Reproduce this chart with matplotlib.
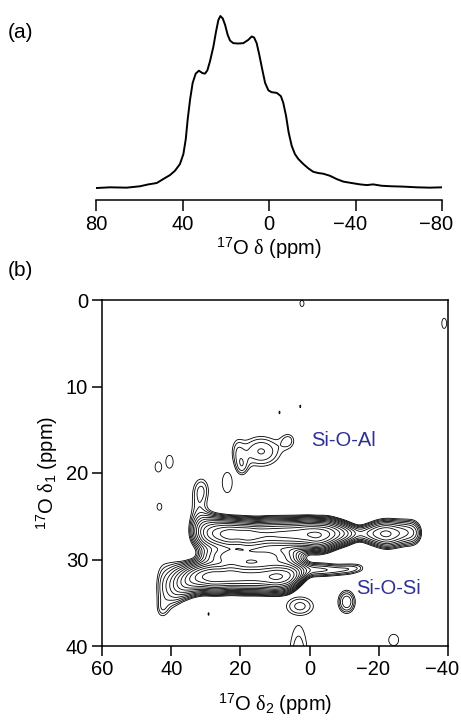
import numpy as np
import matplotlib
matplotlib.use("Agg")
import matplotlib.pyplot as plt
from matplotlib.transforms import ScaledTranslation

plt.rcParams["font.family"] = ["Liberation Sans", "DejaVu Sans"]
plt.rcParams["mathtext.fontset"] = "custom"
plt.rcParams["mathtext.rm"] = "Liberation Sans"
plt.rcParams["mathtext.it"] = "Liberation Serif"
plt.rcParams["axes.unicode_minus"] = True

# ---- (a) 1D 17O MAS spectrum ----
spec_ppm = [79.7, 73.5, 65.8, 59.7, 55.8, 51.9, 48.9, 45.8, 43.5, 41.2, 39.6, 38.5,
            37.6, 36.5, 35.3, 33.9, 32.4, 30.8, 29.6, 28.5, 27.3, 25.7, 24.5, 23.4,
            22.5, 21.4, 20.3, 19.1, 18.0, 16.5, 14.2, 11.9, 9.6, 8.0, 6.9, 5.7, 4.5,
            3.1, 1.8, 0.3, -1.2, -3.6, -5.5, -6.6, -7.9, -9.1, -10.5, -12.0, -13.6,
            -15.9, -18.2, -20.5, -22.8, -25.1, -28.2, -31.3, -34.4, -38.2, -42.1,
            -45.2, -48.2, -52.1, -56.7, -62.1, -68.3, -74.4, -80.1]
spec_int = [0.0, 0.004, 0.002, 0.010, 0.021, 0.029, 0.052, 0.075, 0.100, 0.139, 0.197,
            0.283, 0.399, 0.514, 0.611, 0.665, 0.682, 0.668, 0.665, 0.684, 0.736, 0.823,
            0.909, 0.977, 1.0, 0.986, 0.948, 0.890, 0.857, 0.842, 0.840, 0.842, 0.861,
            0.881, 0.875, 0.842, 0.775, 0.688, 0.611, 0.568, 0.557, 0.553, 0.534, 0.495,
            0.418, 0.322, 0.245, 0.197, 0.168, 0.139, 0.114, 0.094, 0.087, 0.083, 0.071,
            0.052, 0.037, 0.029, 0.021, 0.017, 0.021, 0.013, 0.010, 0.008, 0.004, 0.002,
            0.004]
top_ticks = [80, 40, 0, -40, -80]

# ---- (b) 2D 17O MQMAS map ----
# Ridges: height, delta1 position and delta1 width sampled along delta2
upper_d2  = [35.5, 34.0, 32.0, 30.0, 27.0, 23.0, 20.5, 18.0, 15.0, 12.0, 8.0, 4.0,
             0.0, -2.0, -5.0, -8.0, -11.0, -13.0, -14.6, -17.0, -20.0, -22.3, -25.0,
             -28.0, -30.0, -31.5, -33.0]
upper_amp = [0.5, 1.5, 4.0, 7.0, 10.0, 13.0, 12.0, 13.0, 11.5, 11.0, 11.5, 12.0,
             13.5, 14.5, 12.0, 8.0, 5.0, 3.2, 2.6, 3.4, 4.8, 5.5, 4.3,
             3.4, 3.0, 1.8, 0.3]
upper_d1  = [26.8, 26.8, 26.8, 26.9, 27.0, 27.1, 27.1, 27.2, 27.2, 27.1, 27.1, 27.1,
             27.1, 27.2, 27.1, 27.0, 27.0, 27.0, 27.0, 27.0, 27.0, 27.05, 27.0,
             26.9, 26.9, 26.9, 26.9]
upper_sig = [1.3, 1.3, 1.3, 1.2, 1.1, 1.0, 1.0, 1.0, 1.0, 1.0, 1.0, 1.0,
             1.0, 1.0, 1.0, 0.9, 0.8, 0.7, 0.65, 0.8, 0.95, 1.0, 1.0,
             1.0, 1.05, 1.0, 0.9]

lower_d2  = [45.0, 43.5, 42.0, 40.0, 37.0, 34.0, 31.0, 28.0, 25.5, 23.0, 19.0, 15.0,
             12.0, 9.5, 6.0, 4.0, 2.0, 0.0, -4.0, -8.0, -12.0, -14.0, -15.5, -16.5]
lower_amp = [0.6, 1.5, 2.0, 2.8, 5.0, 8.0, 11.0, 13.0, 12.5, 13.0, 12.0, 12.0,
             13.0, 14.5, 12.0, 8.0, 4.0, 2.5, 2.3, 2.0, 1.8, 1.5, 1.1, 0.5]
lower_d1  = [33.3, 33.2, 33.1, 33.0, 32.6, 32.2, 32.0, 32.0, 32.0, 31.9, 32.0, 32.0,
             32.0, 32.0, 31.9, 31.7, 31.4, 31.2, 31.2, 31.2, 31.1, 31.0, 31.0, 31.0]
lower_sig = [2.5, 2.5, 2.2, 1.8, 1.3, 1.1, 1.0, 1.0, 1.0, 1.0, 1.0, 1.0,
             1.0, 1.0, 1.0, 0.9, 0.8, 0.6, 0.6, 0.55, 0.55, 0.5, 0.5, 0.5]

# weak ridge between the two bands
mid_d2  = [33.0, 30.0, 27.0, 24.0, 21.0, 18.0, 15.0, 12.0, 9.0, 6.0, 3.0, 0.0]
mid_amp = [0.0, 2.0, 4.0, 5.5, 5.8, 4.8, 5.0, 5.5, 4.5, 3.0, 1.0, 0.0]
mid_d1  = [29.6, 29.6, 29.6, 29.6, 29.6, 29.6, 29.6, 29.6, 29.6, 29.6, 29.6, 29.6]
mid_sig = [0.7, 0.7, 0.7, 0.7, 0.7, 0.7, 0.7, 0.7, 0.7, 0.7, 0.7, 0.7]

# shoulder rising from the upper band near 32 ppm, lobe below the lower band
arm_d2  = [31.3, 32.3, 42.5]
arm_d1  = [21.8, 24.0, 35.8]
arm_w2  = [2.2, 2.4, 1.4]
arm_w1  = [1.3, 1.4, 0.8]
arm_amp = [1.35, 0.85, 0.6]

# Si-O-Al cross peak
al_d2  = [14.0, 21.0, 6.0, 19.5]
al_d1  = [17.5, 17.6, 16.2, 19.4]
al_w2  = [5.0, 1.5, 1.8, 1.4]
al_w1  = [1.55, 1.5, 0.8, 0.9]
al_amp = [1.85, 0.8, 1.05, 1.0]

# isolated weak signals
iso_d2  = [23.8, 43.7, 40.5, 43.4, 2.8, -10.7, 3.2, -24.3, 2.2, -38.9,
           8.7, 2.7, 29.2]
iso_d1  = [21.1, 19.3, 18.7, 23.9, 35.4, 34.9, 41.5, 39.3, 0.4, 2.7,
           13.0, 12.3, 36.3]
iso_w2  = [2.7, 1.8, 2.0, 1.3, 4.0, 2.0, 3.0, 2.7, 1.1, 1.3,
           0.3, 0.3, 0.3]
iso_w1  = [2.2, 1.1, 1.4, 0.75, 1.1, 1.07, 4.5, 1.23, 0.66, 1.1,
           0.3, 0.3, 0.3]
iso_amp = [1.15, 1.15, 1.15, 1.15, 1.6, 2.2, 1.45, 1.15, 1.15, 1.15,
           1.15, 1.15, 1.15]

base_level = 1.0
level_ratio = 1.22
n_levels = 16

W, H = 461, 722
fig = plt.figure(figsize=(W / 100, H / 100), dpi=100)


def hang_minus(ax, fontsize):
    """Centre negative tick labels on their digits, letting the minus hang left."""
    shift = -0.5 * 0.584 * fontsize / 72
    for lab in ax.get_xticklabels():
        if lab.get_text().startswith("\u2212"):
            lab.set_transform(lab.get_transform()
                              + ScaledTranslation(shift, 0, fig.dpi_scale_trans))


# panel (a)
ax1 = fig.add_axes([96 / W, 1 - 200 / H, 346 / W, 190 / H])
ax1.plot(spec_ppm, spec_int, color="black", lw=1.4)
ax1.set_xlim(80, -80)
ax1.set_ylim(-12 / 172, 1 + 6 / 172)
for s in ("left", "right", "top"):
    ax1.spines[s].set_visible(False)
ax1.spines["bottom"].set_linewidth(1.1)
ax1.set_yticks([])
ax1.set_xticks(top_ticks)
ax1.set_xticklabels([f"{t}".replace("-", "\u2212") for t in top_ticks])
ax1.tick_params(axis="x", direction="out", length=8, width=1.1, labelsize=14.5, pad=3)
hang_minus(ax1, 14.5)
ax1.set_xlabel(r"$^{17}$O $\delta$ (ppm)", fontsize=14.5, labelpad=1)
fig.text(8 / W, 1 - 32 / H, "(a)", fontsize=15, va="center", ha="left")

# panel (b)
ax2 = fig.add_axes([102 / W, 1 - 646 / H, 346 / W, 346 / H])
x = np.linspace(-42, 62, 1041)
y = np.linspace(-2, 44, 461)
X, Y = np.meshgrid(x, y)


def ridge(d2, amp, d1, sig):
    order = np.argsort(d2)
    d2 = np.asarray(d2)[order]
    a = np.interp(x, d2, np.asarray(amp)[order], left=0, right=0)
    c = np.interp(x, d2, np.asarray(d1)[order])
    s = np.interp(x, d2, np.asarray(sig)[order])
    return a[None, :] * np.exp(-0.5 * ((Y - c[None, :]) / s[None, :]) ** 2)


def peak(x0, y0, w2, w1, a):
    return a * np.exp(-0.5 * (((X - x0) / w2) ** 2 + ((Y - y0) / w1) ** 2))


Zr = (ridge(upper_d2, upper_amp, upper_d1, upper_sig)
      + ridge(lower_d2, lower_amp, lower_d1, lower_sig)
      + ridge(mid_d2, mid_amp, mid_d1, mid_sig))
# line broadening along delta2
k = np.arange(-40, 41) * 0.1
kern = np.exp(-0.5 * (k / 1.0) ** 2)
kern /= kern.sum()
Zr = np.apply_along_axis(lambda r: np.convolve(r, kern, mode="same"), 1, Zr)

Z = Zr.copy()
for d2s, d1s, w2s, w1s, amps in [(arm_d2, arm_d1, arm_w2, arm_w1, arm_amp),
                                  (al_d2, al_d1, al_w2, al_w1, al_amp)]:
    for p in zip(d2s, d1s, w2s, w1s, amps):
        Z += peak(*p)
# weak isolated signals are kept as separate islands
for p in zip(iso_d2, iso_d1, iso_w2, iso_w1, iso_amp):
    Z = np.maximum(Z, peak(*p))

levels = base_level * level_ratio ** np.arange(n_levels)
ax2.contour(X, Y, Z, levels=levels, colors="black", linewidths=0.6)
ax2.set_xlim(60, -40)
ax2.set_ylim(40, 0)
ax2.set_xticks([60, 40, 20, 0, -20, -40])
ax2.set_xticklabels(["60", "40", "20", "0", "\u221220", "\u221240"])
ax2.set_yticks([0, 10, 20, 30, 40])
for s in ax2.spines.values():
    s.set_linewidth(1.1)
ax2.tick_params(direction="out", length=7, width=1.1, labelsize=14.5, pad=3)
hang_minus(ax2, 14.5)
ax2.set_xlabel(r"$^{17}$O $\delta_2$ (ppm)", fontsize=14.5, labelpad=9)
ax2.set_ylabel(r"$^{17}$O $\delta_1$ (ppm)", fontsize=14.5, labelpad=4)
ax2.text(-0.5, 16.3, "Si-O-Al", color="#2E3192", fontsize=14.5, va="center", ha="left")
ax2.text(-13.4, 33.4, "Si-O-Si", color="#2E3192", fontsize=14.5, va="center", ha="left")
fig.text(8 / W, 1 - 270 / H, "(b)", fontsize=15, va="center", ha="left")

fig.savefig("out.png", dpi=100)
